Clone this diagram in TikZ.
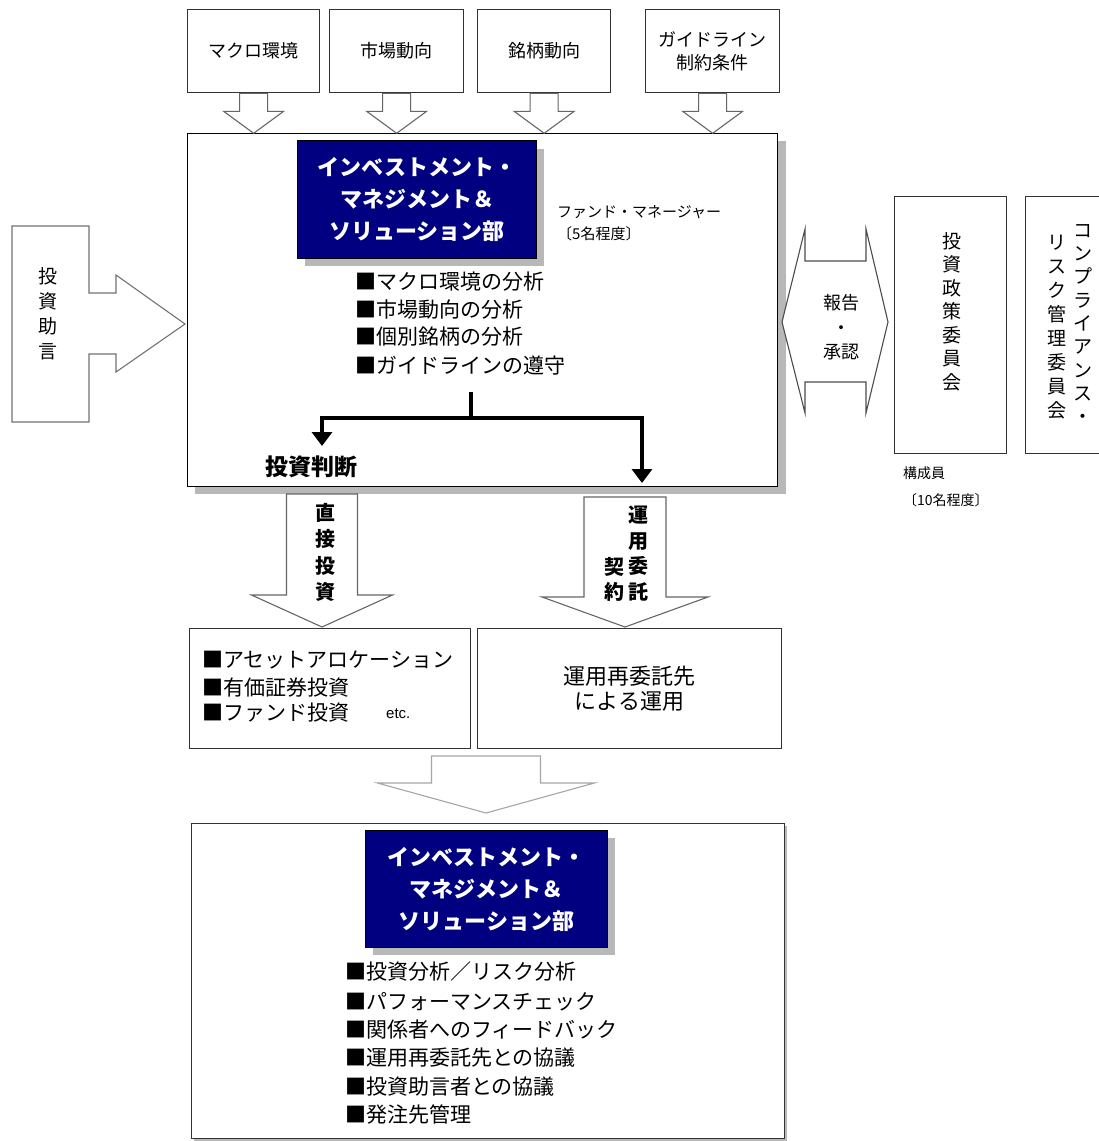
\documentclass[tikz,border=0pt]{standalone}
\usepackage{fontspec}
\setmainfont{Noto Sans CJK JP}
\newfontfamily\latinfont{Liberation Sans}
\usetikzlibrary{arrows.meta}
\definecolor{navyc}{RGB}{0,0,128}
\tikzset{
 pbox/.style={draw=black!80, line width=1.3pt, fill=white, inner sep=0pt},
 barrow/.style={draw=black!60, line width=1.1pt, fill=white, line join=miter},
 lgarrow/.style={draw=black!35, line width=1.1pt, fill=white, line join=miter},
 navybox/.style={draw=black, line width=1pt, fill=navyc, text=white, font=\fontsize{22}{32}\selectfont\bfseries, align=center, inner sep=0pt},
 shadowc/.style={fill=black!28},
 txt/.style={inner sep=0pt, anchor=west, font=\fontsize{21}{28}\selectfont},
 smalltxt/.style={inner sep=0pt, anchor=west, font=\fontsize{15}{20}\selectfont},
 vtxt/.style={inner sep=0pt, align=center},
 blk/.style={line width=4.5pt, draw=black, line join=miter},
 tip/.style={-{Triangle[width=20pt,length=14pt]}},
}
% #1 style, #2 top point, #3 shaft half width, #4 head half width, #5 shaft length, #6 head length
\newcommand\dnblock[6]{%
  \draw[#1] ([xshift=-#3 pt]#2) -- ++(0,#5) -- ++({-(#4-#3)},0) -- ++(#4,#6) -- ++(#4,-#6) -- ++({-(#4-#3)},0) -- ++(0,-#5) -- cycle;}
\begin{document}
\begin{tikzpicture}[x=1pt,y=-1pt]
\useasboundingbox (0,0) rectangle (1099,1141);
\clip (0,0) rectangle (1099,1141);
\fill[white] (0,0) rectangle (1099,1141);

% ---------- main box ----------
\fill[shadowc] (195,141) rectangle (786,494);
\node[pbox, draw=black, minimum width=590, minimum height=353, anchor=north west] (main) at (187,133) {};

% ---------- top boxes and arrows ----------
\node[pbox, minimum width=132, minimum height=83, anchor=north west, font=\fontsize{18}{23}\selectfont] (b1) at (187,9) {マクロ環境};
\node[pbox, minimum width=134, minimum height=83, anchor=north west, font=\fontsize{18}{23}\selectfont] (b2) at (329,9) {市場動向};
\node[pbox, minimum width=133, minimum height=83, anchor=north west, font=\fontsize{18}{23}\selectfont] (b3) at (477,9) {銘柄動向};
\node[pbox, minimum width=134, minimum height=83, anchor=north west, align=center, font=\fontsize{18}{23}\selectfont] (b4) at (645,9) {ガイドライン\\制約条件};
\dnblock{barrow}{b1.south}{14}{30}{18}{22}
\dnblock{barrow}{b2.south}{14}{30}{18}{22}
\dnblock{barrow}{b3.south}{14}{30}{18}{22}
\dnblock{barrow}{b4.south}{14}{30}{18}{22}

% ---------- navy title (top) ----------
\fill[shadowc] (305,149) rectangle (544,266);
\node[navybox, minimum width=239, minimum height=118, anchor=north west] (dept1) at (297,140) {インベストメント・\\マネジメント＆\\ソリューション部};

\node[smalltxt] (fm1) at (557,212) {ファンド・マネージャー};
\node[smalltxt] (fm2) at (557,234) {〔5名程度〕};

\node[txt] (m1) at (355,282) {■マクロ環境の分析};
\node[txt] (m2) at (355,310) {■市場動向の分析};
\node[txt] (m3) at (355,337) {■個別銘柄の分析};
\node[txt] (m4) at (355,366) {■ガイドラインの遵守};

% ---------- decision arrows ----------
\coordinate (stem) at (471,392);
\coordinate (jn) at (471,418);
\coordinate (arL) at (322,446);
\coordinate (arR) at (642,483);
\draw[blk] (stem) -- (jn);
\draw[blk, tip] (jn) -| (arL);
\draw[blk, tip] (jn) -| (arR);
\node[inner sep=0pt, font=\fontsize{23}{28}\selectfont\bfseries] (judg) at (311,467) {投資判断};

% ---------- left advice arrow ----------
\draw[barrow, draw=black!55] (12,226) -- (89,226) -- (89,293) -- (116,293) -- (116,275) -- (185,324)
  -- (116,372) -- (116,354) -- (89,354) -- (89,422) -- (12,422) -- cycle;
\node[vtxt, font=\fontsize{19}{25}\selectfont] (adv) at (48,313.5) {投\\資\\助\\言};

% ---------- report / approval double arrow ----------
\draw[barrow, draw=black!70] (782,322) -- (805,229) -- (805,261) -- (866,261) -- (866,229) -- (888,322)
  -- (866,413) -- (866,382) -- (805,382) -- (805,413) -- cycle;
\node[vtxt, font=\fontsize{18}{24.5}\selectfont] (rep) at (841,327.5) {報告\\・\\承認};

% ---------- committees ----------
\node[pbox, minimum width=112, minimum height=257, anchor=north west] (ipc) at (894,196) {};
\node[vtxt, font=\fontsize{19}{23.5}\selectfont] (ipct) at (952,311.5) {投\\資\\政\\策\\委\\員\\会};
\node[pbox, minimum width=92, minimum height=257, anchor=north west] (crc) at (1025,196) {};
\node[vtxt, font=\fontsize{19}{23.3}\selectfont] (crc1) at (1083,324) {コ\\ン\\プ\\ラ\\イ\\ア\\ン\\ス\\・};
\node[vtxt, font=\fontsize{19}{24}\selectfont] (crc2) at (1057,327) {リ\\ス\\ク\\管\\理\\委\\員\\会};
\node[inner sep=0pt, anchor=west, font=\fontsize{14}{18}\selectfont] (mem1) at (903,473) {構成員};
\node[inner sep=0pt, anchor=west, font=\fontsize{14}{18}\selectfont] (mem2) at (903,500) {〔10名程度〕};

% ---------- lower arrows ----------
\coordinate (dtop) at (322,494);
\coordinate (stop) at (625,497);
\dnblock{barrow}{dtop}{35.5}{70.5}{101}{32}
\dnblock{barrow}{stop}{41}{83}{100}{30}
\node[vtxt, font=\fontsize{20}{26.3}\selectfont\bfseries] (direct) at (325,552.5) {直\\接\\投\\資};
\node[vtxt, font=\fontsize{20}{25.7}\selectfont\bfseries] (entr1) at (638,553.5) {運\\用\\委\\託};
\node[vtxt, font=\fontsize{20}{25.7}\selectfont\bfseries] (entr2) at (614,579.5) {契\\約};

% ---------- lower boxes ----------
\node[pbox, minimum width=281, minimum height=120, anchor=north west] (dbox) at (189,628) {};
\node[txt] (l1) at (202,660) {■アセットアロケーション};
\node[txt] (l2) at (202,688) {■有価証券投資};
\node[txt] (l3) at (202,713) {■ファンド投資};
\node[inner sep=0pt, anchor=west, font=\latinfont\fontsize{15}{18}\selectfont] (etc) at (386,714) {etc.};
\node[pbox, minimum width=304, minimum height=120, anchor=north west, align=center, font=\fontsize{22}{25}\selectfont] (sbox) at (477,628) {運用再委託先\\による運用};

% ---------- merge arrow ----------
\coordinate (mtop) at (486,756);
\dnblock{lgarrow}{mtop}{54.5}{108.5}{27}{30}

% ---------- bottom box ----------
\fill[shadowc] (194,826) rectangle (787,1141);
\node[pbox, minimum width=593, minimum height=315, anchor=north west] (bot) at (191,823) {};
\fill[shadowc] (373,838) rectangle (615,955);
\node[navybox, minimum width=242, minimum height=117, anchor=north west] (dept2) at (365,830) {インベストメント・\\マネジメント＆\\ソリューション部};
\node[txt] (n1) at (345,972) {■投資分析／リスク分析};
\node[txt] (n2) at (345,1002) {■パフォーマンスチェック};
\node[txt] (n3) at (345,1030) {■関係者へのフィードバック};
\node[txt] (n4) at (345,1058) {■運用再委託先との協議};
\node[txt] (n5) at (345,1087) {■投資助言者との協議};
\node[txt] (n6) at (345,1115) {■発注先管理};
\end{tikzpicture}
\end{document}
